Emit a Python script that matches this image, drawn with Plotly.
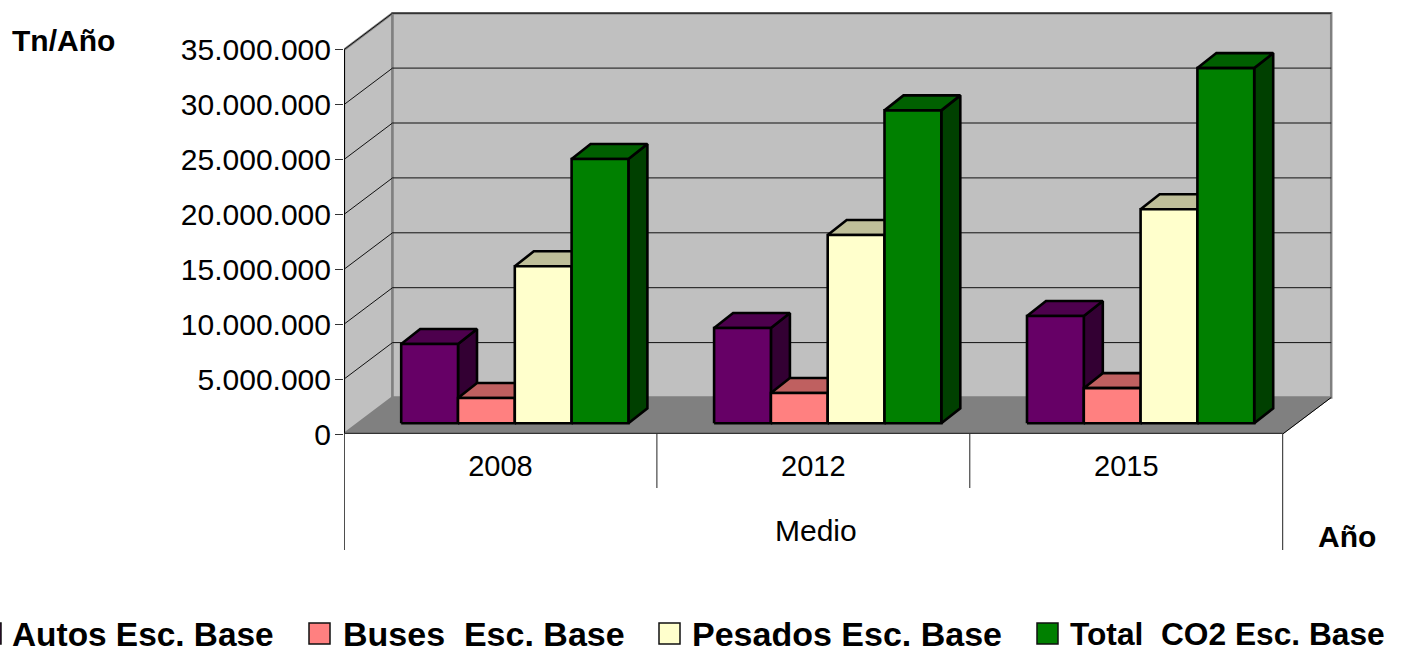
import plotly.graph_objects as go

# ---- data ----
years = ["2008", "2012", "2015"]
group_label = "Medio"
series_names = ["Autos Esc. Base", "Buses  Esc. Base", "Pesados Esc. Base", "Total  CO2 Esc. Base"]
autos = [7220000, 8680000, 9770000]
buses = [2300000, 2760000, 3200000]
pesados = [14300000, 17150000, 19500000]
total = [24070000, 28500000, 32350000]
y_ticks = [0, 5000000, 10000000, 15000000, 20000000, 25000000, 30000000, 35000000]
y_labels = ["0", "5.000.000", "10.000.000", "15.000.000", "20.000.000", "25.000.000", "30.000.000", "35.000.000"]

# ---- styles ----
W, H = 1412, 649
LEFT, BASE = 344.0, 434.0
CAT_PX = 312.9
VAL_PER_PX = 5000000 / 54.9
FONT = "Liberation Sans"
front = ["#660066", "#FF8080", "#FFFFCC", "#008000"]
top = ["#4D004D", "#BF6060", "#BFBF99", "#006000"]
side = ["#330033", "#804040", "#808066", "#004000"]

def ux(px): return px / CAT_PX
def uy(px): return px * VAL_PER_PX
def pap_x(px): return (px - LEFT) / (W - LEFT)
def pap_y(py): return (BASE - py) / BASE

wall_dx, wall_dy = ux(48.5), uy(36.5)
bar_dx, bar_dy = ux(19), uy(15)
bar_w = ux(56.8)
bar_start = ux(57.2)
bar_base = uy(10.7)
ncat = len(years)
ymax_axis = y_ticks[-1]

fig = go.Figure()

def poly(xs, ys, fill, line="#000000", width=2.6, mode="lines"):
    fig.add_trace(go.Scatter(x=xs + xs[:1], y=ys + ys[:1], mode=mode, fill="toself", fillcolor=fill,
                             line=dict(color=line, width=width), hoverinfo="skip", showlegend=False))

def path(xs, ys, color, width=1):
    fig.add_trace(go.Scatter(x=xs, y=ys, mode="lines", line=dict(color=color, width=width),
                             hoverinfo="skip", showlegend=False))

# walls and floor
poly([0, wall_dx, wall_dx, 0], [0, wall_dy, ymax_axis + wall_dy, ymax_axis], "#C0C0C0", "#808080", 2.5)
poly([wall_dx, ncat + wall_dx, ncat + wall_dx, wall_dx],
     [wall_dy, wall_dy, ymax_axis + wall_dy, ymax_axis + wall_dy], "#C0C0C0", "#808080", 2.5)
poly([0, ncat, ncat + wall_dx, wall_dx], [0, 0, wall_dy, wall_dy], "#808080", "#808080", 1)

# gridlines on side wall and back wall
for v in y_ticks[1:]:
    path([0, wall_dx, ncat + wall_dx], [v, v + wall_dy, v + wall_dy], "#111111", 1)

# axis lines
path([0, 0], [0, ymax_axis], "#000000", 2)
path([0, ncat], [uy(0.4), uy(0.4)], "#333333", 1.5)
path([ncat, ncat + wall_dx], [0, wall_dy], "#000000", 1)

# bars
all_series = [autos, buses, pesados, total]
for c in range(ncat):
    for s, vals in enumerate(all_series):
        x0 = c + bar_start + s * bar_w
        x1 = x0 + bar_w
        v = vals[c]
        y0, y1 = bar_base, bar_base + v
        poly([x1, x1 + bar_dx, x1 + bar_dx, x1], [y0, y0 + bar_dy, y1 + bar_dy, y1], side[s])
        poly([x0, x1, x1 + bar_dx, x0 + bar_dx], [y1, y1, y1 + bar_dy, y1 + bar_dy], top[s])
        poly([x0, x1, x1, x0], [y0, y0, y1, y1], front[s])

# category separators below the axis
shapes = []
for i in range(ncat + 1):
    long_line = i in (0, ncat)
    xv = i + (0.001 if i == 0 else 0)
    shapes.append(dict(type="line", xref="x", yref="paper", x0=xv, x1=xv, y0=0,
                       y1=pap_y(550 if long_line else 488), line=dict(color="#222222", width=1)))

# legend swatches and text
swatch_px = [(-20, 1), (309, 330), (659, 680), (1037, 1058)]
text_px = [10, 341, 690, 1068]
text_size = [33.4, 34, 34, 31.7]
annotations = []
for s, name in enumerate(series_names):
    a, b = swatch_px[s]
    shapes.append(dict(type="rect", xref="paper", yref="paper", x0=pap_x(a), x1=pap_x(b),
                       y0=pap_y(644), y1=pap_y(623), fillcolor=front[s],
                       line=dict(color="#111111", width=1.5)))
    annotations.append(dict(text="<b>%s</b>" % name.replace("  ", "&nbsp; "), xref="paper", yref="paper",
                            x=pap_x(text_px[s]), y=pap_y(634), xanchor="left", yanchor="middle",
                            showarrow=False, font=dict(family=FONT, size=text_size[s], color="#000000")))

annotations += [
    dict(text="<b>Tn/Año</b>", xref="paper", yref="paper", x=pap_x(63), y=pap_y(41), xanchor="center",
         yanchor="middle", showarrow=False, font=dict(family=FONT, size=30, color="#000000")),
    dict(text="<b>Año</b>", xref="paper", yref="paper", x=pap_x(1346.5), y=pap_y(536), xanchor="center",
         yanchor="middle", showarrow=False, font=dict(family=FONT, size=30, color="#000000")),
    dict(text=group_label, xref="paper", yref="paper", x=pap_x(816), y=pap_y(530), xanchor="center",
         yanchor="middle", showarrow=False, font=dict(family=FONT, size=30, color="#000000")),
]

fig.update_layout(
    width=W, height=H, paper_bgcolor="#FFFFFF", plot_bgcolor="#FFFFFF", showlegend=False,
    margin=dict(l=LEFT, r=0, t=0, b=H - BASE, pad=0, autoexpand=False),
    shapes=shapes, annotations=annotations,
    font=dict(family=FONT, size=30, color="#000000"),
    xaxis=dict(range=[0, (W - LEFT) / CAT_PX], tickmode="array", tickvals=[i + 0.5 for i in range(ncat)],
               ticktext=years, ticks="", showgrid=False, zeroline=False, showline=False,
               ticklabelstandoff=12, tickfont=dict(family=FONT, size=29, color="#000000")),
    yaxis=dict(range=[0, BASE * VAL_PER_PX], tickmode="array", tickvals=y_ticks, ticktext=y_labels,
               ticks="outside", ticklen=8, tickcolor="#333333", tickwidth=1, showgrid=False, zeroline=False,
               showline=False, ticklabelstandoff=-2, tickfont=dict(family=FONT, size=30, color="#000000")),
)

fig.write_html("out.html", config={"displayModeBar": False},
               post_script="document.body.style.margin='0';document.body.style.overflow='hidden';")
